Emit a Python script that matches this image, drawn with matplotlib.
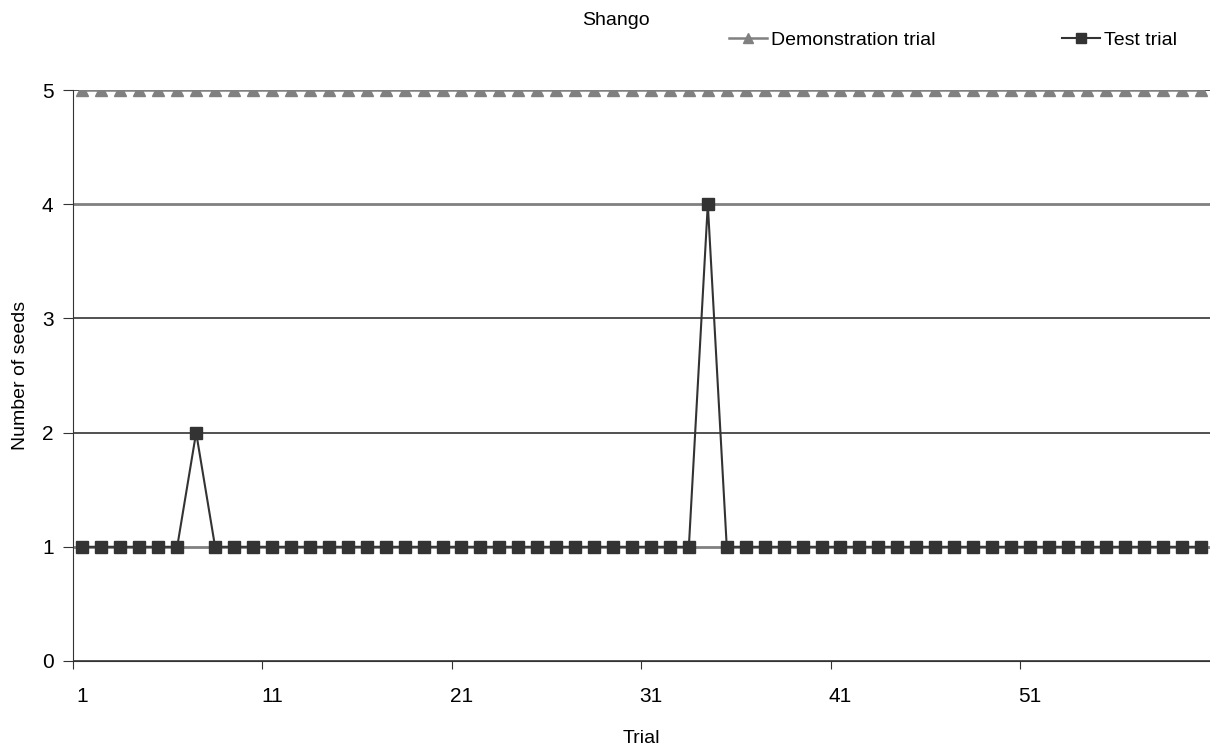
import matplotlib
matplotlib.use('Agg')
import matplotlib.pyplot as plt
import numpy as np

plt.rcParams['font.family'] = ['Liberation Sans', 'DejaVu Sans']

# data: 60 trials
trials = np.arange(1, 61)
demonstration = [5] * 60
test = [1] * 60
test[6] = 2    # trial 7
test[33] = 4   # trial 34

x_ticks = [1, 11, 21, 31, 41, 51]
y_ticks = [0, 1, 2, 3, 4, 5]

fig = plt.figure(figsize=(12.1, 7.49), dpi=100)
ax = fig.add_axes([0.0603, 0.1175, 0.9397, 0.7623])

ax.plot(trials, demonstration, color='#808080', lw=1.8, marker='^', ms=8,
        markeredgecolor='#808080', label='Demonstration trial', zorder=3)
ax.plot(trials, test, color='#333333', lw=1.5, marker='s', ms=8,
        markeredgecolor='#333333', label='Test trial', zorder=4)

ax.set_xlim(0.5, 60.5)
ax.set_ylim(0, 5)

# category axis: ticks at boundaries, labels at category centres
ax.set_xticks([t - 0.5 for t in x_ticks])
ax.set_xticklabels([])
ax.set_xticks(x_ticks, minor=True)
ax.set_xticklabels([str(t) for t in x_ticks], minor=True)
ax.tick_params(axis='x', which='minor', length=0, labelsize=15, pad=19)
ax.tick_params(axis='x', which='major', length=6, direction='out', color='#333333')

ax.set_yticks(y_ticks)
ax.tick_params(axis='y', length=7, direction='out', labelsize=15, pad=7, color='#333333')

ax.grid(axis='y', color='#333333', lw=1.2, zorder=0)
for i, gl in enumerate(ax.yaxis.get_gridlines()):
    if y_ticks[i] in (1, 4):
        gl.set_color('#808080')
        gl.set_linewidth(2)

for side in ['top', 'right']:
    ax.spines[side].set_visible(False)
ax.spines['left'].set_color('#333333')
ax.spines['bottom'].set_color('#333333')

ax.set_xlabel('Trial', fontsize=14, labelpad=17)
ax.set_ylabel('Number of seeds', fontsize=14, labelpad=9)

fig.text(0.509, 0.972, 'Shango', fontsize=14, ha='center', va='center')
fig.legend(loc='center left', bbox_to_anchor=(0.6025, 0.9466), ncol=2, frameon=False,
           fontsize=14, handlelength=1.95, handletextpad=0.2, columnspacing=6.5,
           borderpad=0, borderaxespad=0, markerscale=0.9)

fig.savefig('out.png', dpi=100)
